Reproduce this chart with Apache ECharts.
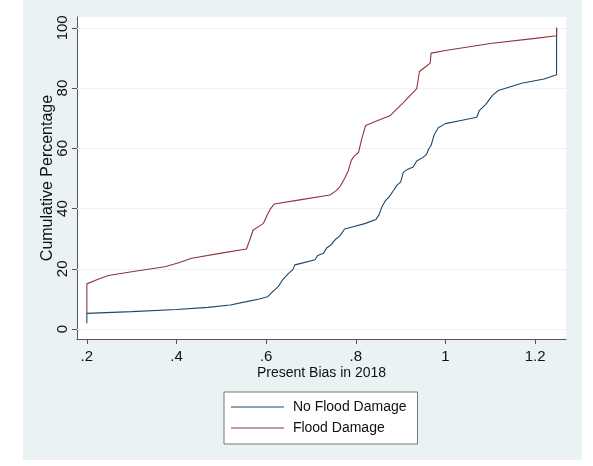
<!DOCTYPE html>
<html>
<head>
<meta charset="utf-8">
<script src="https://cdn.jsdelivr.net/npm/echarts@6/dist/echarts.min.js"></script>
<style>
html,body{margin:0;padding:0;background:#ffffff;}
#chart{width:593px;height:466px;}
</style>
</head>
<body>
<div id="chart"></div>
<script>
var xTicks = [0.2, 0.4, 0.6, 0.8, 1.0, 1.2];
var xTickLabels = ['.2', '.4', '.6', '.8', '1', '1.2'];
var yTicks = [0, 20, 40, 60, 80, 100];
var seriesNames = ['No Flood Damage', 'Flood Damage'];

var noFlood = [
  [0.2,1.9],[0.2,5.2],[0.3,5.8],[0.4,6.5],[0.47,7.2],[0.52,8.0],[0.556,9.1],[0.585,10.0],
  [0.603,10.7],[0.615,12.5],[0.627,14.1],[0.638,16.6],[0.65,18.5],[0.66,19.8],[0.664,21.3],
  [0.68,21.9],[0.709,23.0],[0.715,24.4],[0.728,25.2],[0.735,26.9],[0.745,28.0],[0.755,29.8],
  [0.765,31.0],[0.775,33.2],[0.79,33.8],[0.82,35.0],[0.845,36.4],[0.852,38.0],[0.858,40.5],
  [0.866,42.6],[0.875,44.0],[0.884,46.0],[0.892,47.8],[0.9,48.8],[0.906,52.0],[0.915,53.0],
  [0.928,53.8],[0.936,55.8],[0.95,57.0],[0.958,58.0],[0.962,59.6],[0.968,61.0],[0.975,64.5],
  [0.984,66.8],[1.0,68.2],[1.04,69.4],[1.07,70.3],[1.075,72.4],[1.09,74.6],[1.105,77.6],
  [1.118,79.2],[1.17,81.6],[1.22,83.0],[1.248,84.4],[1.248,100]
];
var flood = [
  [0.2,5.2],[0.2,15],[0.225,16.5],[0.248,17.8],[0.3,19.0],[0.374,20.7],[0.405,22.0],[0.434,23.5],
  [0.5,25.2],[0.556,26.6],[0.562,29.0],[0.571,32.9],[0.583,34.0],[0.594,35.1],[0.603,38.0],
  [0.61,40.0],[0.618,41.5],[0.675,42.9],[0.742,44.5],[0.755,45.8],[0.765,47.3],[0.775,50.0],
  [0.783,52.5],[0.79,56.0],[0.797,57.5],[0.806,58.6],[0.813,63.0],[0.822,67.6],[0.845,69.0],
  [0.876,70.8],[0.905,75.0],[0.936,79.8],[0.942,85.5],[0.955,87.0],[0.966,88.3],[0.968,91.6],
  [1.0,92.5],[1.1,94.8],[1.2,96.5],[1.248,97.4],[1.248,100]
];

var chart = echarts.init(document.getElementById('chart'), null, {renderer: 'canvas'});
var font = 'Liberation Sans, Arial, Helvetica, sans-serif';
var labelMap = {};
xTicks.forEach(function (v, i) { labelMap[v.toFixed(2)] = xTickLabels[i]; });

chart.setOption({
  backgroundColor: '#ffffff',
  animation: false,
  graphic: [{
    type: 'rect', left: 23, top: 0, z: -10,
    shape: {width: 559, height: 460},
    style: {fill: '#eaf2f3'}
  }, {
    type: 'rect', left: 77, top: 17, z: -9,
    shape: {width: 489, height: 322},
    style: {fill: '#ffffff'}
  }],
  grid: {left: 77, right: 27, top: 17, bottom: 127, containLabel: false},
  legend: {
    orient: 'vertical',
    left: 224, top: 392,
    data: seriesNames,
    backgroundColor: '#ffffff',
    borderColor: '#777777',
    borderWidth: 1,
    padding: [8, 11, 9, 7],
    itemWidth: 53, itemHeight: 14, itemGap: 7,
    formatter: function (name) { return ' ' + name; },
    textStyle: {fontFamily: font, fontSize: 14, color: '#111111'},
    icon: 'path://M0,0 L52,0 L52,1 L0,1 Z'
  },
  xAxis: {
    type: 'value',
    min: 0.178, max: 1.269,
    name: 'Present Bias in 2018',
    nameLocation: 'middle',
    nameGap: 27,
    nameMoveOverlap: false,
    nameTextStyle: {fontFamily: font, fontSize: 14, color: '#111111'},
    axisLine: {show: true, onZero: false, lineStyle: {color: '#555555', width: 1}},
    axisTick: {show: true, length: 5, customValues: xTicks, lineStyle: {color: '#555555'}},
    axisLabel: {
      customValues: xTicks,
      fontFamily: font, fontSize: 15, color: '#111111', margin: 10,
      formatter: function (v) { return labelMap[Number(v).toFixed(2)] || ''; }
    },
    splitLine: {show: false}
  },
  yAxis: {
    type: 'value',
    min: -3.3, max: 103.6,
    name: 'Cumulative Percentage',
    nameLocation: 'middle',
    nameGap: 21,
    nameMoveOverlap: false,
    nameRotate: 90,
    nameTextStyle: {fontFamily: font, fontSize: 16, color: '#111111'},
    axisLine: {show: true, onZero: false, lineStyle: {color: '#555555', width: 1}},
    axisTick: {show: true, length: 5, customValues: yTicks, lineStyle: {color: '#555555'}},
    axisLabel: {
      customValues: yTicks,
      rotate: 90,
      fontFamily: font, fontSize: 15, color: '#111111', margin: 7,
      formatter: function (v) { return String(Math.round(v)); }
    },
    splitLine: {show: false}
  },
  series: [{
    name: seriesNames[0],
    type: 'line',
    data: noFlood,
    symbol: 'none',
    lineStyle: {color: '#1a476f', width: 1.1},
    itemStyle: {color: '#1a476f'},
    z: 3,
    markLine: {
      silent: true, symbol: 'none', animation: false,
      label: {show: false},
      lineStyle: {color: '#eef2f3', width: 1, type: 'solid'},
      data: yTicks.map(function (v) { return {yAxis: v}; }),
      z: 1
    }
  }, {
    name: seriesNames[1],
    type: 'line',
    data: flood,
    symbol: 'none',
    lineStyle: {color: '#90353b', width: 1.1},
    itemStyle: {color: '#90353b'},
    z: 4
  }]
});
</script>
</body>
</html>
